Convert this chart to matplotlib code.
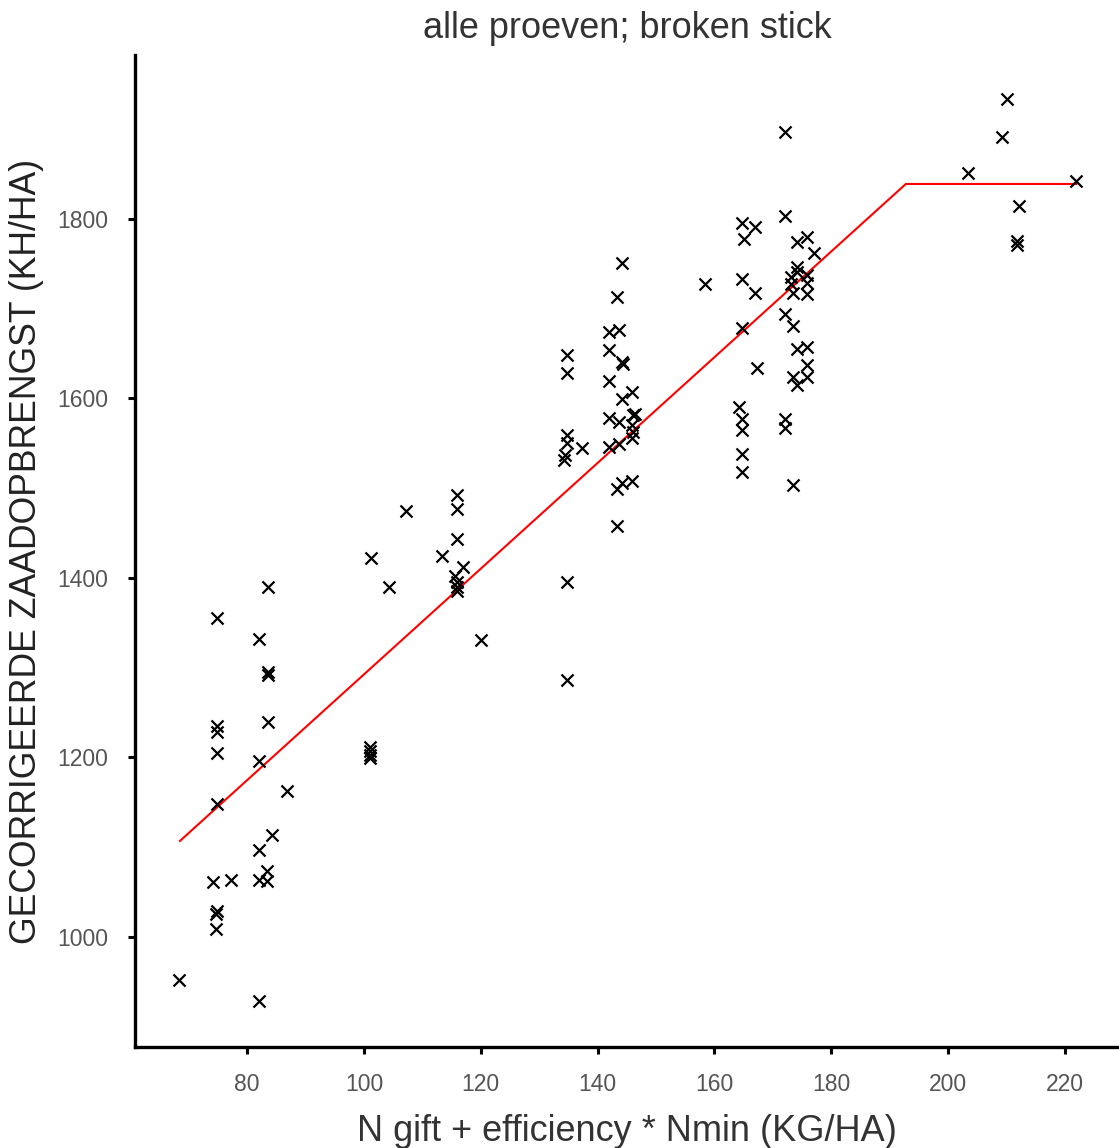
import matplotlib
matplotlib.use("Agg")
import matplotlib.pyplot as plt
import numpy as np

plt.rcParams['font.family'] = ['Liberation Sans', 'DejaVu Sans']

# scatter data (N gift + efficiency*Nmin, corrected seed yield)
x_vals = [68.4,
          74.8, 74.8, 74.8, 74.8, 74.8, 74.2, 74.9, 74.7, 74.7,
          77.2,
          82.1, 82.1, 82.1, 82.1, 82.1,
          83.5, 83.5, 83.5, 83.5, 83.4, 83.4, 84.3, 86.9,
          101.2, 101.1, 101.1, 101.1, 101.1,
          104.3, 107.2, 113.4,
          115.9, 115.9, 115.9, 116.9, 115.6, 115.9, 115.9, 115.9,
          120.1,
          134.7, 134.7, 134.7, 134.7, 134.5, 134.3, 134.7, 134.7,
          137.4,
          144.2, 143.4, 142.0, 143.6, 142.0, 144.2, 144.4, 142.0, 144.2, 145.9,
          142.0, 143.6, 146.0, 146.5, 145.9, 146.0, 145.9, 142.0, 143.6,
          143.3, 144.2, 145.9, 143.4,
          158.4,
          164.7, 167.0, 165.1, 164.7, 167.0, 164.7, 167.3, 164.3, 164.7, 164.7, 164.7, 164.7,
          172.1, 172.1, 174.1, 175.8, 177.0, 174.1, 174.2, 173.2, 175.8, 173.2, 175.8,
          173.5, 175.8, 172.1, 173.5, 174.2, 175.9, 175.9, 173.5, 174.2, 175.9,
          172.1, 172.1, 173.4,
          203.4, 209.3, 210.1, 212.2, 211.8, 211.8, 222.0]
y_vals = [952,
          1355, 1235, 1228, 1205, 1148, 1061, 1029, 1026, 1009,
          1064,
          1332, 1196, 1097, 1063, 929,
          1390, 1295, 1292, 1239, 1074, 1062, 1114, 1163,
          1422, 1212, 1207, 1203, 1199,
          1390, 1475, 1425,
          1492, 1477, 1443, 1412, 1402, 1396, 1390, 1385,
          1331,
          1648, 1628, 1559, 1550, 1537, 1531, 1396, 1286,
          1545,
          1751, 1713, 1674, 1676, 1654, 1641, 1638, 1619, 1599, 1607,
          1578, 1574, 1582, 1583, 1570, 1563, 1556, 1546, 1549,
          1499, 1506, 1508, 1458,
          1728,
          1795, 1791, 1778, 1733, 1717, 1678, 1634, 1591, 1577, 1565, 1538, 1518,
          1897, 1803, 1774, 1780, 1762, 1746, 1741, 1735, 1738, 1728, 1729,
          1717, 1716, 1694, 1681, 1655, 1657, 1637, 1624, 1615, 1624,
          1577, 1567, 1504,
          1851, 1891, 1934, 1814, 1775, 1771, 1842]

# broken-stick fit
fit_x = [68.5, 192.8, 222.0]
fit_y = [1107, 1839, 1839]

x_ticks = [80, 100, 120, 140, 160, 180, 200, 220]
y_ticks = [1000, 1200, 1400, 1600, 1800]

fig = plt.figure(figsize=(11.19, 11.48), dpi=100)
ax = fig.add_axes([135/1119, 1 - 1047/1148, (1119 - 135)/1119, (1047 - 55)/1148])

ax.scatter(x_vals, y_vals, marker='x', s=75, linewidths=1.6, color='black', zorder=3)
ax.plot(fit_x, fit_y, color='red', linewidth=1.5, zorder=2)

ax.set_xlim(60.8, 229.3)
ax.set_ylim(877.4, 1982.7)
ax.set_xticks(x_ticks)
ax.set_yticks(y_ticks)

for s in ['top', 'right']:
    ax.spines[s].set_visible(False)
for s in ['left', 'bottom']:
    ax.spines[s].set_linewidth(2.4)
    ax.spines[s].set_color('black')

ax.tick_params(axis='both', direction='out', length=5, width=2.2, color='black',
               labelsize=16.5, labelcolor='#555555', pad=14)

ax.set_title('alle proeven; broken stick', fontsize=26, color='#333333', pad=12)
ax.set_xlabel('N gift + efficiency * Nmin (KG/HA)', fontsize=26, color='#333333', labelpad=13)
ax.set_ylabel('GECORRIGEERDE ZAADOPBRENGST (KH/HA)', fontsize=25.7, color='#222222', labelpad=10)

fig.savefig('out.png', dpi=100)
